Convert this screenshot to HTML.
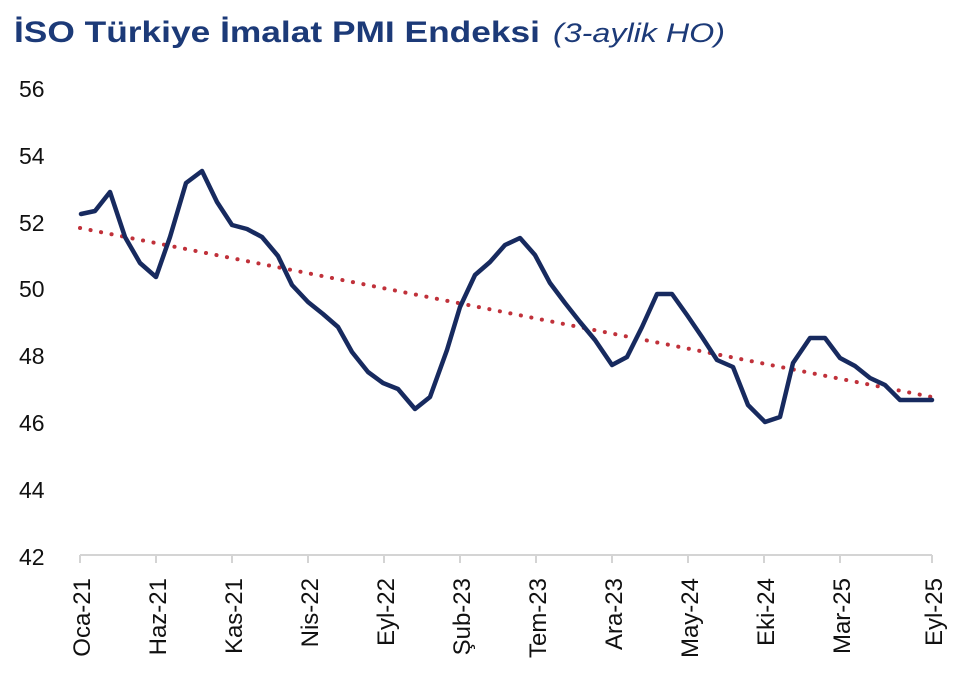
<!DOCTYPE html>
<html><head><meta charset="utf-8"><style>
body{margin:0;background:#fff;width:960px;height:675px;overflow:hidden;}
</style></head><body>
<svg width="960" height="675" xmlns="http://www.w3.org/2000/svg" font-family="Liberation Sans, sans-serif">
<text x="14" y="42" font-size="30" font-weight="bold" fill="#1c3a78" textLength="526" lengthAdjust="spacingAndGlyphs">İSO Türkiye İmalat PMI Endeksi</text>
<text x="553" y="42" font-size="27" font-style="italic" fill="#1c3a78" textLength="172" lengthAdjust="spacingAndGlyphs">(3-aylik HO)</text>
<g font-size="23" fill="#111" text-anchor="start">
<text x="19" y="97">56</text><text x="19" y="164">54</text><text x="19" y="231">52</text><text x="19" y="297">50</text>
<text x="19" y="364">48</text><text x="19" y="431">46</text><text x="19" y="498">44</text><text x="19" y="565">42</text>
</g>
<g stroke="#d4d4d4" stroke-width="2">
<line x1="80" y1="555" x2="932" y2="555"/>
<line x1="80" y1="555" x2="80" y2="563"/><line x1="156" y1="555" x2="156" y2="563"/><line x1="232" y1="555" x2="232" y2="563"/>
<line x1="308" y1="555" x2="308" y2="563"/><line x1="384" y1="555" x2="384" y2="563"/><line x1="460" y1="555" x2="460" y2="563"/>
<line x1="536" y1="555" x2="536" y2="563"/><line x1="612" y1="555" x2="612" y2="563"/><line x1="688" y1="555" x2="688" y2="563"/>
<line x1="764" y1="555" x2="764" y2="563"/><line x1="840" y1="555" x2="840" y2="563"/><line x1="932" y1="555" x2="932" y2="563"/>
</g>
<g font-size="24" fill="#111" text-anchor="end">
<text transform="translate(90,578) rotate(-90)">Oca-21</text>
<text transform="translate(166,578) rotate(-90)">Haz-21</text>
<text transform="translate(242,578) rotate(-90)">Kas-21</text>
<text transform="translate(318,578) rotate(-90)">Nis-22</text>
<text transform="translate(394,578) rotate(-90)">Eyl-22</text>
<text transform="translate(470,578) rotate(-90)">Şub-23</text>
<text transform="translate(546,578) rotate(-90)">Tem-23</text>
<text transform="translate(622,578) rotate(-90)">Ara-23</text>
<text transform="translate(698,578) rotate(-90)">May-24</text>
<text transform="translate(774,578) rotate(-90)">Eki-24</text>
<text transform="translate(850,578) rotate(-90)">Mar-25</text>
<text transform="translate(942,578) rotate(-90)">Eyl-25</text>
</g>
<line x1="80" y1="228" x2="932" y2="397" stroke="#c0313a" stroke-width="4" stroke-linecap="round" stroke-dasharray="0.1 10.6"/>
<polyline fill="none" stroke="#172a5f" stroke-width="4.5" stroke-linejoin="round" stroke-linecap="round" points="81,214 95,211 110,192 125,237 140,263 156,277 170,237 186,183 202,171 217,202 232,225 247,229 262,237 278,256 292,285 308,302 323,314 338,327 352,352 368,372 383,383 398,389 415,409 430,397 447,350 460,307 475,275 490,262 505,245 520,238 535,255 550,283 565,303 580,322 595,340 612,365 627,357 642,327 657,294 672,294 687,315 702,337 717,360 733,367 748,405 765,422 780,417 793,363 810,338 825,338 840,358 855,366 870,378 885,385 900,400 932,400"/>
</svg>
</body></html>
